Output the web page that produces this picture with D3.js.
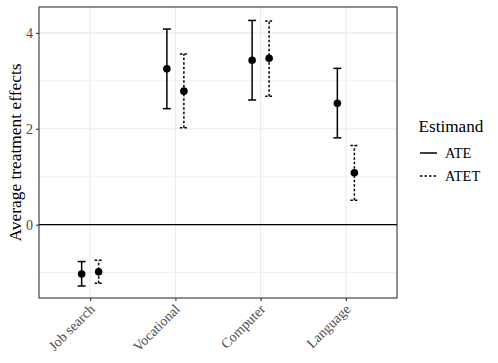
<!DOCTYPE html>
<html><head><meta charset="utf-8">
<script src="https://cdn.jsdelivr.net/npm/d3@7"></script>
<style>body{margin:0;background:#fff;}</style>
</head><body>
<script>
const categories = ["Job search", "Vocational", "Computer", "Language"];
const estimands = ["ATE", "ATET"];
const ateEst = [-1.03, 3.25, 3.43, 2.53];
const ateLo  = [-1.28, 2.42, 2.60, 1.81];
const ateHi  = [-0.77, 4.08, 4.26, 3.26];
const atetEst = [-0.985, 2.785, 3.47, 1.08];
const atetLo  = [-1.22, 2.02, 2.68, 0.51];
const atetHi  = [-0.74, 3.56, 4.25, 1.65];
const yTicks = [0, 2, 4];
const yMinor = [-1, 1, 3];

const FONT = '"Liberation Serif"';
const W = 498, H = 363;
const m = {left: 39, right: 397, top: 7, bottom: 298};
const svg = d3.select("body").append("svg").attr("width", W).attr("height", H);

const x = d3.scalePoint().domain(categories).range([m.left, m.right]).padding(0.6);
const y = d3.scaleLinear().domain([-1.53, 4.54]).range([m.bottom, m.top]);
const dodge = d3.scalePoint().domain(estimands).range([-8.5, 8.5]);

const data = [];
categories.forEach((c, i) => {
  data.push({cat: c, est: "ATE", v: ateEst[i], lo: ateLo[i], hi: ateHi[i]});
  data.push({cat: c, est: "ATET", v: atetEst[i], lo: atetLo[i], hi: atetHi[i]});
});

// grid
const g = svg.append("g");
g.selectAll(".ymin").data(yMinor).join("line")
  .attr("x1", m.left).attr("x2", m.right).attr("y1", d => y(d)).attr("y2", d => y(d))
  .attr("stroke", "#ebebeb").attr("stroke-width", 0.8);
g.selectAll(".ymaj").data(yTicks).join("line")
  .attr("x1", m.left).attr("x2", m.right).attr("y1", d => y(d)).attr("y2", d => y(d))
  .attr("stroke", "#ebebeb").attr("stroke-width", 1.1);
g.selectAll(".xmaj").data(categories).join("line")
  .attr("x1", d => x(d)).attr("x2", d => x(d)).attr("y1", m.top).attr("y2", m.bottom)
  .attr("stroke", "#ebebeb").attr("stroke-width", 1.1);

// zero line
svg.append("line").attr("x1", m.left).attr("x2", m.right).attr("y1", y(0)).attr("y2", y(0))
  .attr("stroke", "#000").attr("stroke-width", 1.3);

const dash = d => d.est === "ATET" ? "2.5,2" : null;
const px = d => x(d.cat) + dodge(d.est);
const eb = svg.append("g");
eb.selectAll(".v").data(data).join("line")
  .attr("x1", px).attr("x2", px).attr("y1", d => y(d.lo)).attr("y2", d => y(d.hi))
  .attr("stroke", "#000").attr("stroke-width", 1.5).attr("stroke-dasharray", dash);
eb.selectAll(".ct").data(data).join("line")
  .attr("x1", d => px(d) - 4).attr("x2", d => px(d) + 4).attr("y1", d => y(d.hi)).attr("y2", d => y(d.hi))
  .attr("stroke", "#000").attr("stroke-width", 1.5).attr("stroke-dasharray", dash);
eb.selectAll(".cb").data(data).join("line")
  .attr("x1", d => px(d) - 4).attr("x2", d => px(d) + 4).attr("y1", d => y(d.lo)).attr("y2", d => y(d.lo))
  .attr("stroke", "#000").attr("stroke-width", 1.5).attr("stroke-dasharray", dash);
eb.selectAll("circle").data(data).join("circle")
  .attr("cx", px).attr("cy", d => y(d.v)).attr("r", 3.8).attr("fill", "#000");

// border
svg.append("rect").attr("x", m.left).attr("y", m.top).attr("width", m.right - m.left).attr("height", m.bottom - m.top)
  .attr("fill", "none").attr("stroke", "#333").attr("stroke-width", 1.1);

// axes
const ya = svg.append("g").attr("transform", `translate(${m.left},0)`)
  .call(d3.axisLeft(y).tickValues(yTicks).tickFormat(d3.format("d")).tickSize(3).tickPadding(3));
ya.select(".domain").remove();
ya.selectAll("line").attr("stroke", "#333").attr("stroke-width", 1.1);
ya.selectAll("text").attr("fill", "#4d4d4d").style("font-size", "14px").style("font-family", FONT);

const xa = svg.append("g").attr("transform", `translate(0,${m.bottom})`)
  .call(d3.axisBottom(x).tickSize(3).tickPadding(3));
xa.select(".domain").remove();
xa.selectAll("line").attr("stroke", "#333").attr("stroke-width", 1.1);
xa.selectAll("text").attr("fill", "#4d4d4d").style("font-size", "14px").style("font-family", FONT)
  .attr("text-anchor", "end").attr("dy", null).attr("y", 0)
  .attr("transform", "translate(5,12) rotate(-45)");

// y title
svg.append("text").attr("transform", `translate(21,${(m.top + m.bottom) / 2}) rotate(-90)`)
  .attr("text-anchor", "middle").style("font-size", "17.4px").style("font-family", FONT).attr("fill", "#000")
  .text("Average treatment effects");

// legend
const lg = svg.append("g");
lg.append("text").attr("x", 418.5).attr("y", 132).style("font-size", "17.2px").style("font-family", FONT).text("Estimand");
estimands.forEach((e, i) => {
  const yy = 153 + i * 23;
  lg.append("line").attr("x1", 420).attr("x2", 437).attr("y1", yy).attr("y2", yy)
    .attr("stroke", "#000").attr("stroke-width", 1.5).attr("stroke-dasharray", e === "ATET" ? "2.5,2" : null);
  lg.append("text").attr("x", 445).attr("y", yy + 5.2).style("font-size", "14.4px").style("font-family", FONT).text(e);
});
</script>
</body></html>
